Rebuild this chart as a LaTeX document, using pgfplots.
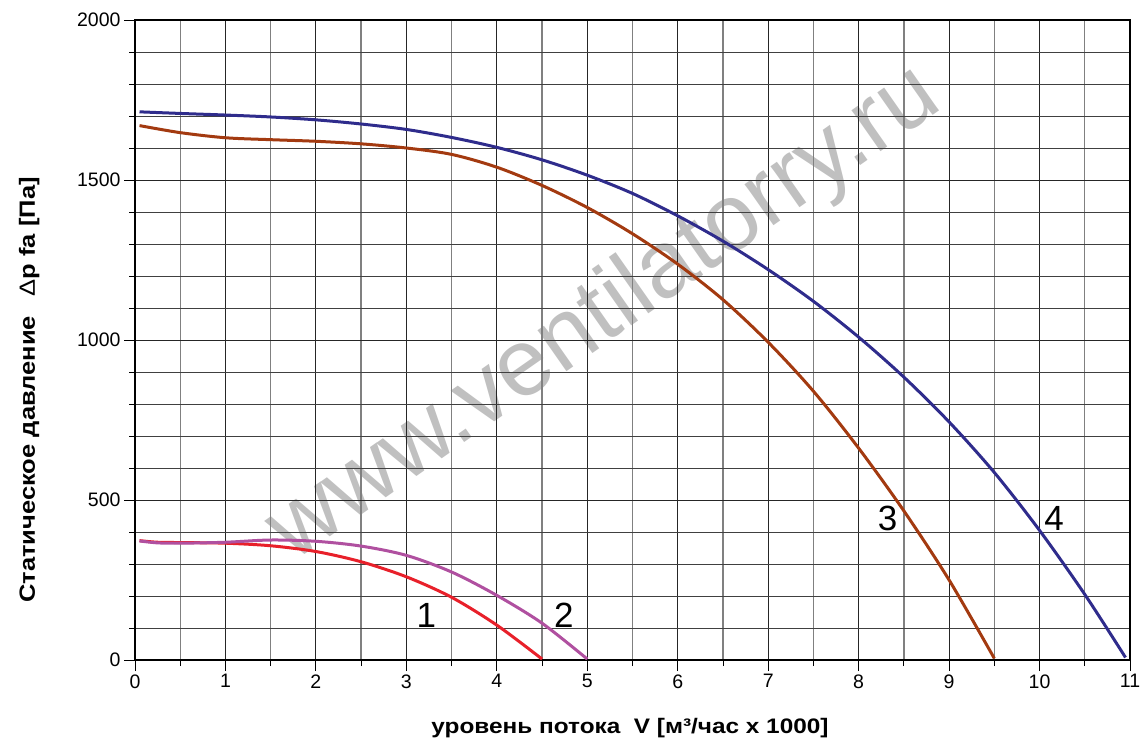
\documentclass[border=0pt]{standalone}
\usepackage{fontspec}
\setmainfont{Liberation Sans}
\newfontfamily\lblfont[FakeStretch=1.16]{Liberation Sans}
\usepackage{pgfplots}
\pgfplotsset{compat=1.18}

\definecolor{curveA}{RGB}{232,32,42}
\definecolor{curveB}{RGB}{176,80,160}
\definecolor{curveC}{RGB}{163,58,16}
\definecolor{curveD}{RGB}{47,44,140}
\definecolor{wmark}{RGB}{192,192,192}

\begin{document}
\begin{tikzpicture}
\begin{axis}[
    set layers,
    scale only axis,
    width=995pt, height=640pt,
    xmin=0, xmax=11, ymin=0, ymax=2000,
    xtick={0,1,...,11},
    ytick={0,500,...,2000},
    minor x tick num=1,
    minor y tick num=4,
    grid=both,
    major x grid style={black!85, line width=0.9pt},
    minor x grid style={black!50, line width=1.3pt},
    major y grid style={black!85, line width=0.9pt},
    minor y grid style={black!75, line width=0.9pt},
    axis line style={black, line width=1.6pt},
    tick pos=left,
    tick align=outside,
    major tick length=11pt,
    minor tick length=6pt,
    tick style={black, line width=0.9pt},
    /pgf/number format/assume math mode=true,
    /pgf/number format/1000 sep={},
    ticklabel style={font=\fontsize{19.5}{22}\selectfont},
    xlabel={уровень потока \ V [м³/час x 1000]},
    xlabel style={font=\lblfont\bfseries\fontsize{21}{24}\selectfont,
        at={(axis description cs:0.4975,0)}, anchor=base, yshift=-73pt},
    ylabel={Статическое давление\hspace{0.9em}{\mdseries Δ}p fa [Па]},
    ylabel style={font=\lblfont\bfseries\fontsize{22}{24}\selectfont,
        at={(axis description cs:0,0.422)}, anchor=base, yshift=100pt},
]

\begin{pgfonlayer}{axis background}
\node[rotate=35, anchor=base, text=wmark, font=\fontsize{95}{100}\selectfont]
    at (axis cs:5.35,1016) {www.ventilatorry.ru};
\end{pgfonlayer}

% 1
\addplot[curveA, line width=3pt, smooth] coordinates {
    (0.05,373) (0.25,368) (0.5,367) (1,365) (1.5,357) (2,339) (2.5,307)
    (3,260) (3.5,196) (4,109) (4.5,3)
};
% 2
\addplot[curveB, line width=3pt, smooth] coordinates {
    (0.05,372) (0.25,366) (0.5,365) (1,368) (1.5,375) (2,371) (2.5,356)
    (3,327) (3.5,275) (4,202) (4.5,115) (5,3)
};
% 3
\addplot[curveC, line width=3pt, smooth] coordinates {
    (0.05,1670) (0.5,1648) (1,1632) (1.5,1626) (2,1621) (2.5,1613) (3,1600)
    (3.5,1580) (4,1540) (4.5,1483) (5,1414) (5.5,1332) (6,1237) (6.5,1126)
    (7,993) (7.5,840) (8,662) (8.5,466) (9,250) (9.5,5)
};
% 4
\addplot[curveD, line width=3pt, smooth] coordinates {
    (0.05,1713) (0.5,1708) (1,1703) (1.5,1697) (2,1688) (2.5,1675) (3,1658)
    (3.5,1633) (4,1602) (4.5,1563) (5,1515) (5.5,1458) (6,1388) (6.5,1309)
    (7,1220) (7.5,1121) (8,1009) (8.5,884) (9,744) (9.5,586) (10,405)
    (10.5,205) (10.95,8)
};

\node[anchor=base, font=\fontsize{35}{40}\selectfont] at (axis cs:3.22,103) {1};
\node[anchor=base, font=\fontsize{35}{40}\selectfont] at (axis cs:4.74,103) {2};
\node[anchor=base, font=\fontsize{35}{40}\selectfont] at (axis cs:8.32,406) {3};
\node[anchor=base, font=\fontsize{35}{40}\selectfont] at (axis cs:10.16,406) {4};

\end{axis}
\pgfresetboundingbox
\path[use as bounding box] (-135pt,-80pt) rectangle (1007pt,660pt);
\end{tikzpicture}
\end{document}
